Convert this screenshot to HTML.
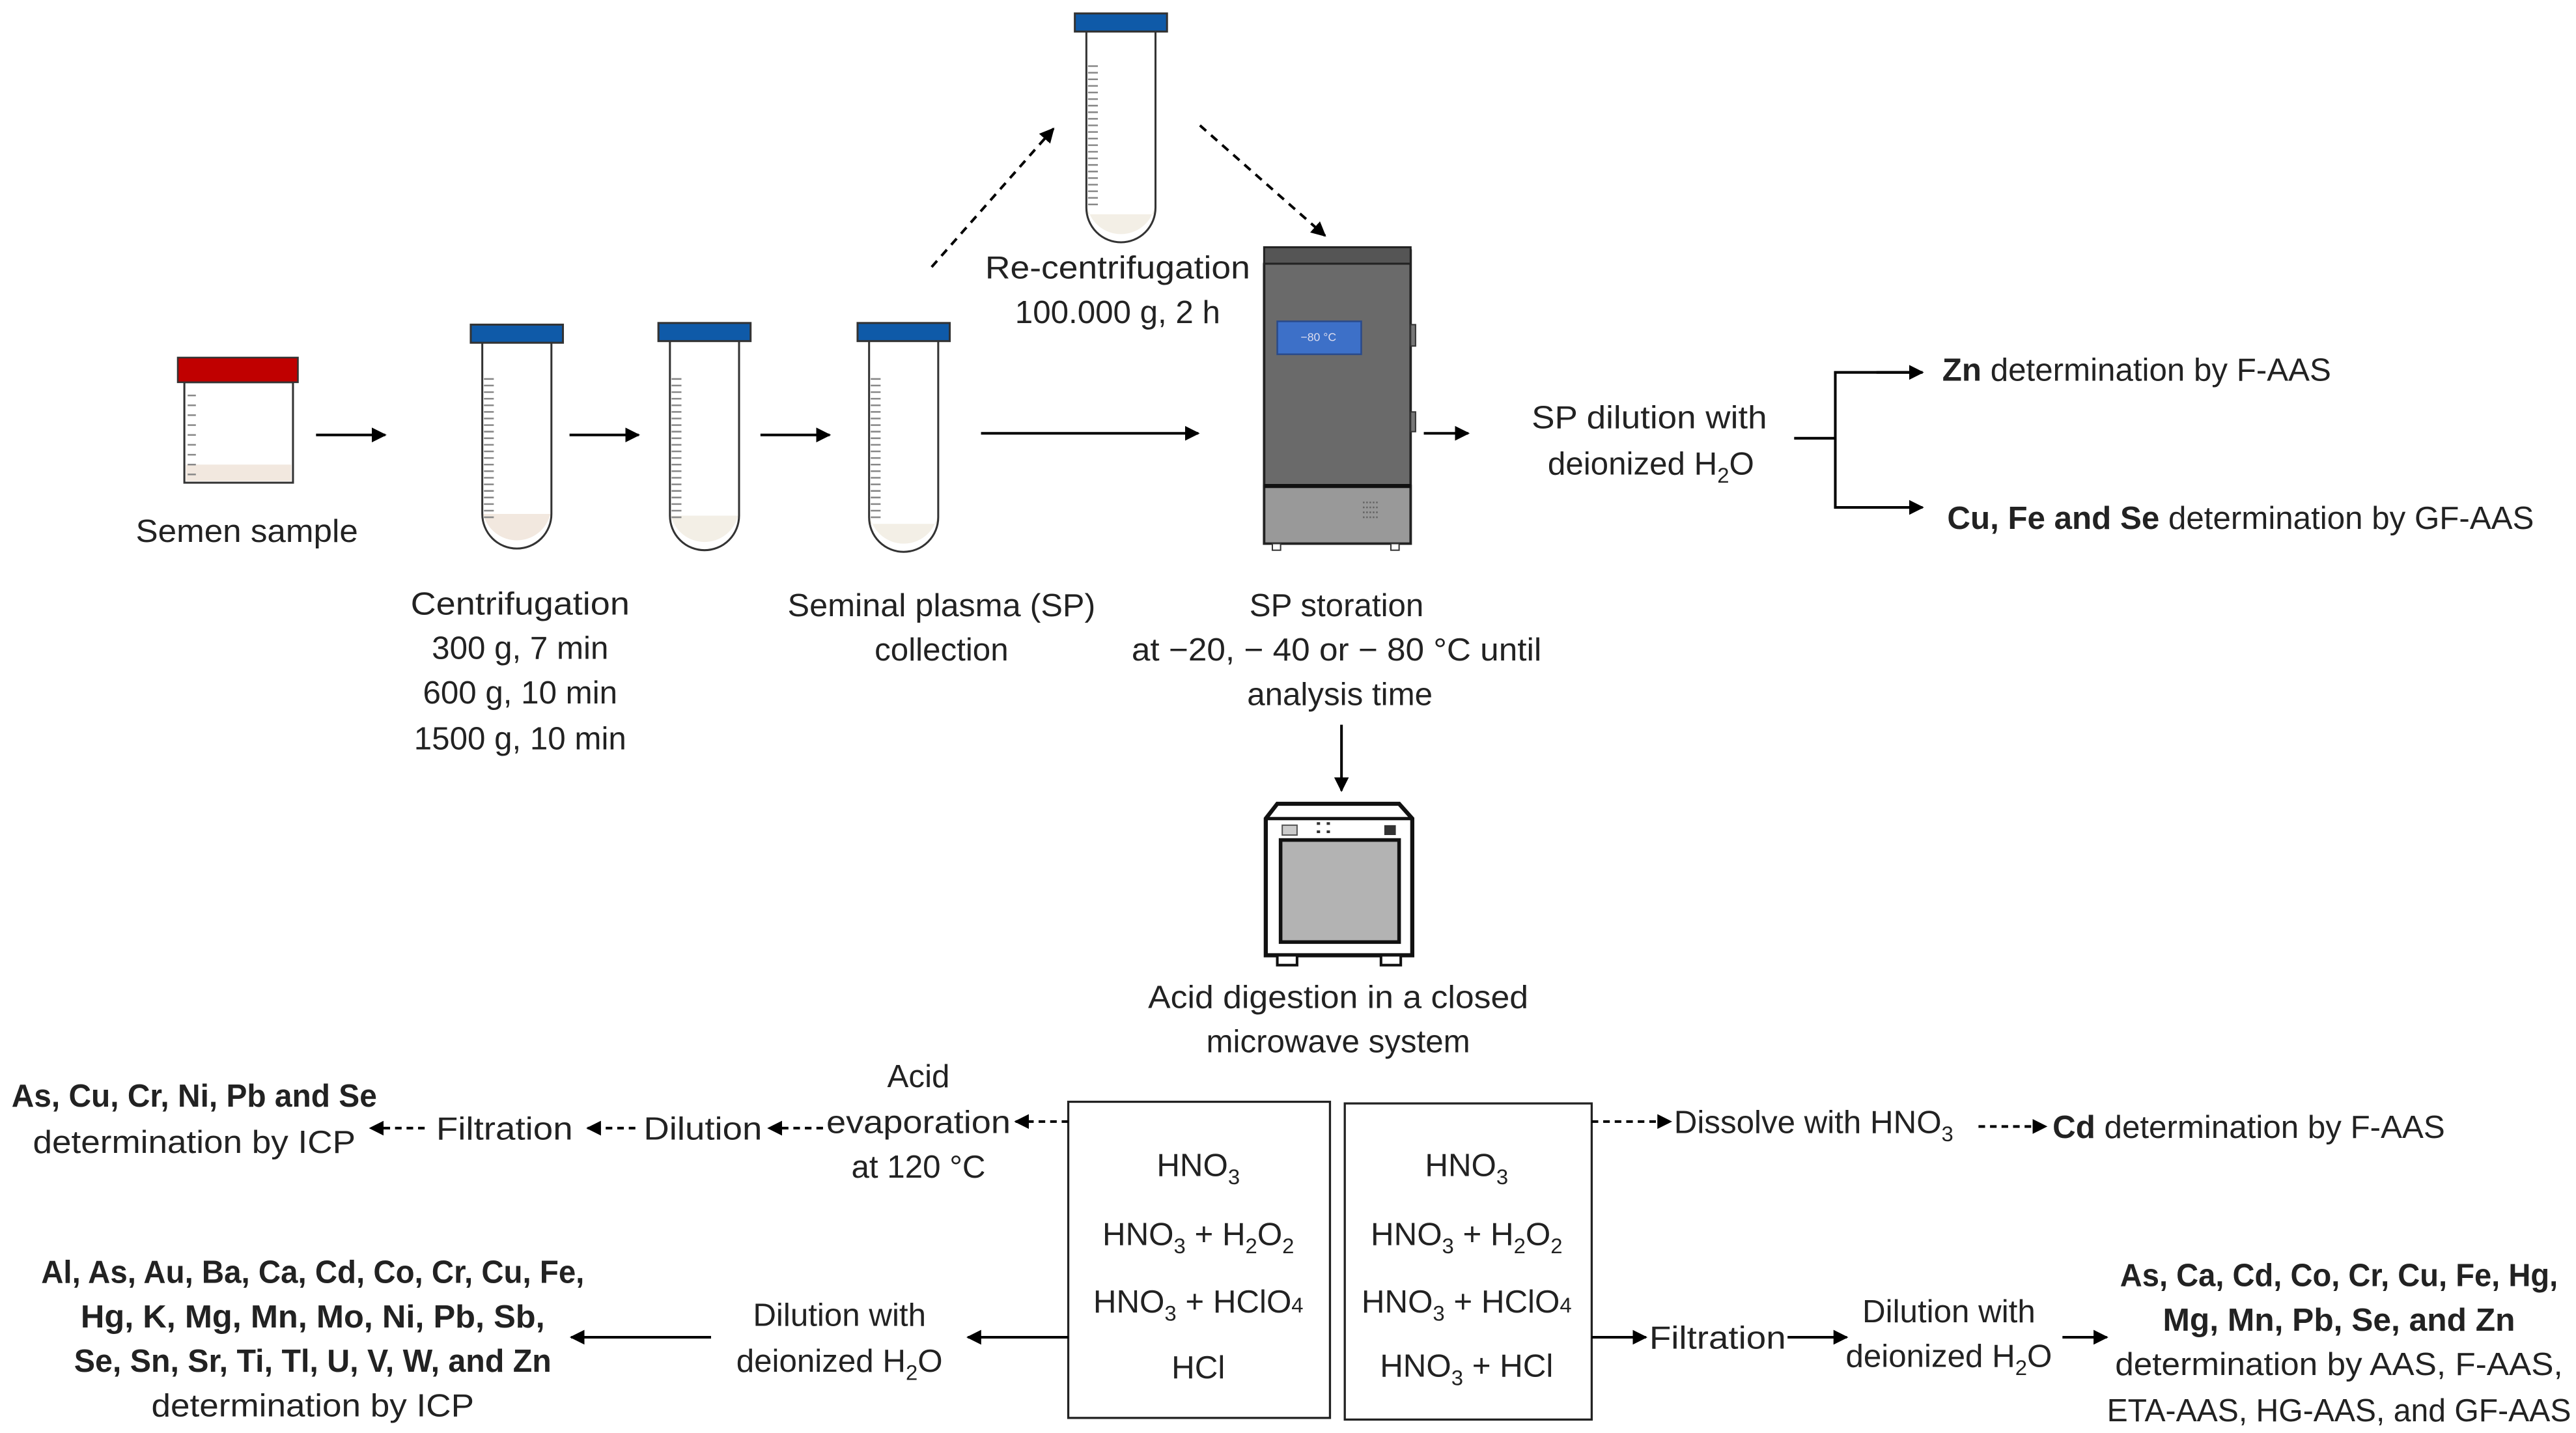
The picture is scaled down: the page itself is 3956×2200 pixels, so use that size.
<!DOCTYPE html>
<html><head><meta charset="utf-8"><style>
html,body{margin:0;padding:0;background:#fff;}
svg{display:block;}
text{font-family:"Liberation Sans",sans-serif;font-size:19.5px;fill:#222;}
.b{font-weight:bold;}
.s{font-size:13px;}
</style></head><body>
<svg width="3956" height="2200" viewBox="0 0 1565 870" xmlns="http://www.w3.org/2000/svg">
<defs>
<marker id="ah" viewBox="0 0 10 10" refX="9" refY="5" markerWidth="9" markerHeight="9" markerUnits="userSpaceOnUse" orient="auto"><path d="M0,0 L10,5 L0,10 z" fill="#000"/></marker>
<g id="tick">
<path d="M0,0h6M0,4h6M0,8h6M0,12h6M0,16h6M0,20h6M0,24h6M0,28h6M0,32h6M0,36h6M0,40h6M0,44h6M0,48h6M0,52h6M0,56h6M0,60h6M0,64h6M0,68h6M0,72h6M0,76h6M0,80h6M0,84h6" stroke="#888" stroke-width="1"/>
</g>
</defs>
<g stroke="#000" stroke-width="1.6" fill="none">
<!-- semen container -->
<rect x="112" y="232" width="66" height="61" fill="#fff" stroke="#333" stroke-width="1.2"/>
<rect x="113" y="282" width="64" height="10" fill="#f2e8df" stroke="none"/>
<rect x="108" y="217" width="73" height="15" fill="#c00000" stroke="#333" stroke-width="1"/>
<path d="M114,240h5M114,246h5M114,252h5M114,258h5M114,264h5M114,270h5M114,276h5M114,282h5M114,288h5" stroke="#888" stroke-width="1"/>
<!-- liquids -->
<path d="M293.6,312 L293.6,312 A21,21 0 0 0 334.4,312 Z" fill="#f2e8df" stroke="none"/>
<rect x="293.6" y="312" width="40.8" height="1" fill="#f2e8df" stroke="none"/>
<path d="M407.6,313 A21,21 0 0 0 448.4,313 Z" fill="#f3efe6" stroke="none"/>
<path d="M528.6,318 L528.6,314 A21,21 0 0 0 569.4,314 L569.4,318 Z" fill="#f3efe6" stroke="none"/>
<path d="M660.6,130 L660.6,126 A21,21 0 0 0 701.4,126 V130 Z" fill="#f3efe6" stroke="none"/>
<rect x="293.6" y="312" width="40.8" height="0.5" fill="#f2e8df" stroke="none"/>
<!-- tubes -->
<g stroke="#333" stroke-width="1.2">
<path d="M293,207 V312 A21,21 0 0 0 335,312 V207" fill="none"/>
<rect x="286" y="197" width="56" height="11" fill="#0f5aa8"/>
<path d="M407,207 V313 A21,21 0 0 0 449,313 V207" fill="none"/>
<rect x="400" y="196" width="56" height="11" fill="#0f5aa8"/>
<path d="M528,207 V314 A21,21 0 0 0 570,314 V207" fill="none"/>
<rect x="521" y="196" width="56" height="11" fill="#0f5aa8"/>
<path d="M660,18 V126 A21,21 0 0 0 702,126 V18" fill="none"/>
<rect x="653" y="8" width="56" height="11" fill="#0f5aa8"/>
</g>
<use href="#tick" x="294" y="230"/>
<use href="#tick" x="408" y="230"/>
<use href="#tick" x="529" y="230"/>
<use href="#tick" x="661" y="40"/>
<!-- arrows top -->
<line x1="192" y1="264" x2="234" y2="264" marker-end="url(#ah)"/>
<line x1="346" y1="264" x2="388" y2="264" marker-end="url(#ah)"/>
<line x1="462" y1="264" x2="504" y2="264" marker-end="url(#ah)"/>
<line x1="596" y1="263" x2="728" y2="263" marker-end="url(#ah)"/>
<line x1="566" y1="162" x2="640" y2="78" stroke-dasharray="5,4" marker-end="url(#ah)"/>
<line x1="729" y1="76" x2="805" y2="143" stroke-dasharray="5,4" marker-end="url(#ah)"/>
<line x1="865" y1="263" x2="892" y2="263" marker-end="url(#ah)"/>
<polyline points="1090,266 1115,266"/>
<polyline points="1168,226 1115,226 1115,308 1168,308"/>
<line x1="1140" y1="226" x2="1168" y2="226" marker-end="url(#ah)"/>
<line x1="1140" y1="308" x2="1168" y2="308" marker-end="url(#ah)"/>
<line x1="815" y1="440" x2="815" y2="480" marker-end="url(#ah)"/>
<!-- freezer -->
<path d="M770,152 L768,160 V330 H857 V152 Z" fill="#6a6a6a" stroke="#222" stroke-width="1.5"/>
<rect x="768" y="150" width="89" height="10" fill="#555" stroke="#222" stroke-width="1.2"/>
<rect x="768" y="295" width="89" height="35" fill="#999" stroke="#222" stroke-width="1.5"/>
<line x1="768" y1="295" x2="857" y2="295" stroke="#111" stroke-width="2.5"/>
<rect x="776" y="195" width="51" height="20" fill="#3d70c8" stroke="#2a4a8a" stroke-width="1"/>
<rect x="857" y="197" width="3" height="13" fill="#777" stroke="#333" stroke-width="0.8"/>
<rect x="857" y="250" width="3" height="12" fill="#777" stroke="#333" stroke-width="0.8"/>
<rect x="773" y="330" width="5" height="4" fill="#fff" stroke="#333" stroke-width="0.8"/>
<rect x="845" y="330" width="5" height="4" fill="#fff" stroke="#333" stroke-width="0.8"/>
<path d="M828,305h10M828,308h10M828,311h10M828,314h10" stroke="#666" stroke-width="1" stroke-dasharray="1,1"/>
<!-- microwave -->
<path d="M776,488 H850 L858,497 V580 H769 V497 Z" fill="#fff" stroke="#111" stroke-width="2.5"/>
<line x1="769" y1="497" x2="858" y2="497" stroke="#111" stroke-width="2"/>
<rect x="778" y="510" width="72" height="62" fill="#b3b3b3" stroke="#111" stroke-width="2.2"/>
<rect x="779" y="501" width="9" height="6" fill="#ccc" stroke="#555" stroke-width="0.8"/>
<path d="M800,500h2M806,500h2M800,505h2M806,505h2" stroke="#333" stroke-width="1.6"/>
<rect x="841" y="501" width="7" height="6" fill="#333" stroke="none"/>
<rect x="776" y="580" width="12" height="6" fill="#fff" stroke="#111" stroke-width="1.6"/>
<rect x="839" y="580" width="12" height="6" fill="#fff" stroke="#111" stroke-width="1.6"/>
<!-- boxes -->
<rect x="649" y="669" width="159" height="192" stroke="#222" stroke-width="1.3"/>
<rect x="817" y="670" width="150" height="192" stroke="#222" stroke-width="1.3"/>
<!-- dashed bottom-left -->
<line x1="649" y1="681" x2="617" y2="681" stroke-dasharray="4,3" marker-end="url(#ah)"/>
<line x1="500" y1="685" x2="467" y2="685" stroke-dasharray="4,3" marker-end="url(#ah)"/>
<line x1="386" y1="685" x2="357" y2="685" stroke-dasharray="4,3" marker-end="url(#ah)"/>
<line x1="258" y1="685" x2="225" y2="685" stroke-dasharray="4,3" marker-end="url(#ah)"/>
<line x1="967" y1="681" x2="1015" y2="681" stroke-dasharray="4,3" marker-end="url(#ah)"/>
<line x1="1202" y1="684" x2="1243" y2="684" stroke-dasharray="4,3" marker-end="url(#ah)"/>
<!-- solid bottom -->
<line x1="649" y1="812" x2="588" y2="812" marker-end="url(#ah)"/>
<line x1="432" y1="812" x2="347" y2="812" marker-end="url(#ah)"/>
<line x1="967" y1="812" x2="1000" y2="812" marker-end="url(#ah)"/>
<line x1="1086" y1="812" x2="1122" y2="812" marker-end="url(#ah)"/>
<line x1="1253" y1="812" x2="1280" y2="812" marker-end="url(#ah)"/>
</g>
<text x="801" y="207" text-anchor="middle" style="font-size:7px;fill:#dde">−80 °C</text>
<g text-anchor="middle">
<text x="150" y="329" textLength="135" lengthAdjust="spacingAndGlyphs">Semen sample</text>
<text x="316" y="373" textLength="133" lengthAdjust="spacingAndGlyphs">Centrifugation</text>
<text x="316" y="400">300 g, 7 min</text>
<text x="316" y="427">600 g, 10 min</text>
<text x="316" y="455">1500 g, 10 min</text>
<text x="572" y="374" textLength="187" lengthAdjust="spacingAndGlyphs">Seminal plasma (SP)</text>
<text x="572" y="401">collection</text>
<text x="812" y="374">SP storation</text>
<text x="812" y="401" textLength="249" lengthAdjust="spacingAndGlyphs">at −20, − 40 or − 80 °C until</text>
<text x="814" y="428">analysis time</text>
<text x="679" y="169" textLength="161" lengthAdjust="spacingAndGlyphs">Re-centrifugation</text>
<text x="679" y="196">100.000 g, 2 h</text>
<text x="1002" y="260" textLength="143" lengthAdjust="spacingAndGlyphs">SP dilution with</text>
<text x="1003" y="288">deionized H<tspan class="s" dy="5">2</tspan><tspan dy="-5">O</tspan></text>
<text x="813" y="612" textLength="231" lengthAdjust="spacingAndGlyphs">Acid digestion in a closed</text>
<text x="813" y="639">microwave system</text>
<text x="728" y="714">HNO<tspan class="s" dy="5">3</tspan></text>
<text x="728" y="756">HNO<tspan class="s" dy="5">3</tspan><tspan dy="-5"> + H</tspan><tspan class="s" dy="5">2</tspan><tspan dy="-5">O</tspan><tspan class="s" dy="5">2</tspan></text>
<text x="728" y="797">HNO<tspan class="s" dy="5">3</tspan><tspan dy="-5"> + HClO</tspan><tspan class="s">4</tspan></text>
<text x="728" y="837">HCl</text>
<text x="891" y="714">HNO<tspan class="s" dy="5">3</tspan></text>
<text x="891" y="756">HNO<tspan class="s" dy="5">3</tspan><tspan dy="-5"> + H</tspan><tspan class="s" dy="5">2</tspan><tspan dy="-5">O</tspan><tspan class="s" dy="5">2</tspan></text>
<text x="891" y="797">HNO<tspan class="s" dy="5">3</tspan><tspan dy="-5"> + HClO</tspan><tspan class="s">4</tspan></text>
<text x="891" y="836">HNO<tspan class="s" dy="5">3</tspan><tspan dy="-5"> + HCl</tspan></text>
<text x="558" y="660">Acid</text>
<text x="558" y="688" textLength="112" lengthAdjust="spacingAndGlyphs">evaporation</text>
<text x="558" y="715">at 120 °C</text>
<text x="118" y="672" class="b" textLength="222" lengthAdjust="spacingAndGlyphs">As, Cu, Cr, Ni, Pb and Se</text>
<text x="118" y="700" textLength="196" lengthAdjust="spacingAndGlyphs">determination by ICP</text>
<text x="510" y="805">Dilution with</text>
<text x="510" y="833">deionized H<tspan class="s" dy="5">2</tspan><tspan dy="-5">O</tspan></text>
<text x="190" y="779" class="b" textLength="330" lengthAdjust="spacingAndGlyphs">Al, As, Au, Ba, Ca, Cd, Co, Cr, Cu, Fe,</text>
<text x="190" y="806" class="b" textLength="282" lengthAdjust="spacingAndGlyphs">Hg, K, Mg, Mn, Mo, Ni, Pb, Sb,</text>
<text x="190" y="833" class="b" textLength="290" lengthAdjust="spacingAndGlyphs">Se, Sn, Sr, Ti, Tl, U, V, W, and Zn</text>
<text x="190" y="860" textLength="196" lengthAdjust="spacingAndGlyphs">determination by ICP</text>
<text x="1184" y="803">Dilution with</text>
<text x="1184" y="830">deionized H<tspan class="s" dy="5">2</tspan><tspan dy="-5">O</tspan></text>
<text x="1421" y="781" class="b" textLength="266" lengthAdjust="spacingAndGlyphs">As, Ca, Cd, Co, Cr, Cu, Fe, Hg,</text>
<text x="1421" y="808" class="b" textLength="214" lengthAdjust="spacingAndGlyphs">Mg, Mn, Pb, Se, and Zn</text>
<text x="1421" y="835" textLength="272" lengthAdjust="spacingAndGlyphs">determination by AAS, F-AAS,</text>
<text x="1421" y="863" textLength="282" lengthAdjust="spacingAndGlyphs">ETA-AAS, HG-AAS, and GF-AAS</text>
</g>
<text x="1180" y="231"><tspan class="b">Zn</tspan> determination by F-AAS</text>
<text x="1183" y="321"><tspan class="b">Cu, Fe and Se</tspan> determination by GF-AAS</text>
<text x="391" y="692" textLength="72" lengthAdjust="spacingAndGlyphs">Dilution</text>
<text x="265" y="692" textLength="83" lengthAdjust="spacingAndGlyphs">Filtration</text>
<text x="1017" y="688">Dissolve with HNO<tspan class="s" dy="5">3</tspan></text>
<text x="1247" y="691"><tspan class="b">Cd</tspan> determination by F-AAS</text>
<text x="1002" y="819" textLength="83" lengthAdjust="spacingAndGlyphs">Filtration</text>
</svg>
</body></html>
